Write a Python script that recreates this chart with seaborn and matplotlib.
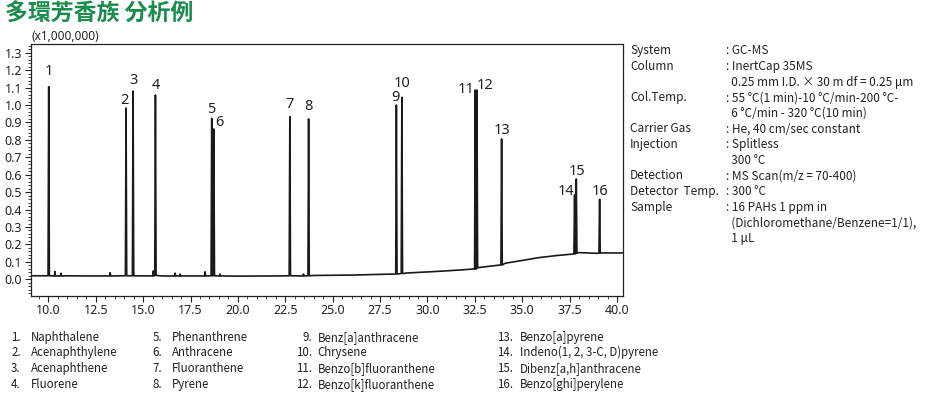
"""
GC-MS chromatogram of 16 PAHs (多環芳香族 分析例)
"""

import numpy as np
import pandas as pd
import matplotlib
matplotlib.use("Agg")
import matplotlib.pyplot as plt
from matplotlib.ticker import MultipleLocator
import seaborn as sns

# ── Data ─────────────────────────────────────────────────────────────────────
peak_no   = [str(i) for i in range(1, 17)]
peak_rt   = [10.02, 14.10, 14.47, 15.65, 18.62, 18.73, 22.74, 23.73,
             28.36, 28.65, 32.52, 32.61, 33.91, 37.76, 37.85, 39.08]
peak_h    = [1.105, 0.983, 1.080, 1.057, 0.923, 0.862, 0.933, 0.920,
             1.000, 1.044, 1.086, 1.086, 0.805, 0.484, 0.575, 0.459]
peak_base = [0.020, 0.020, 0.020, 0.022, 0.020, 0.020, 0.020, 0.020,
             0.030, 0.033, 0.058, 0.064, 0.082, 0.145, 0.150, 0.150]

# small bumps in the early baseline
bump_rt = [10.35, 10.67, 13.26, 15.54, 16.69, 16.95, 18.27, 19.06, 23.46]
bump_h  = [0.044, 0.035, 0.038, 0.048, 0.035, 0.030, 0.043, 0.030, 0.030]

# baseline (drift from the temperature program)
base_t = [9.07, 11.0, 12.0, 14.0, 16.0, 18.0, 20.0, 22.0, 24.0, 26.0, 28.2,
          28.9, 30.5, 31.7, 32.43, 32.69, 33.84, 34.10, 35.0, 35.86,
          36.8, 37.70, 37.97, 38.94, 39.29, 40.33]
base_y = [0.020, 0.020, 0.019, 0.020, 0.019, 0.019, 0.018, 0.019, 0.022,
          0.024, 0.030, 0.036, 0.045, 0.053, 0.059, 0.067, 0.082, 0.092,
          0.108, 0.124, 0.136, 0.145, 0.153, 0.149, 0.151, 0.151]

compounds = [
    "Naphthalene", "Acenaphthylene", "Acenaphthene", "Fluorene",
    "Phenanthrene", "Anthracene", "Fluoranthene", "Pyrene",
    "Benz[a]anthracene", "Chrysene", "Benzo[b]fluoranthene", "Benzo[k]fluoranthene",
    "Benzo[a]pyrene", "Indeno(1, 2, 3-C, D)pyrene", "Dibenz[a,h]anthracene",
    "Benzo[ghi]perylene",
]

cond_labels = ["System", "Column", "", "Col.Temp.", "", "Carrier Gas",
               "Injection", "", "Detection", "Detector  Temp.", "Sample", "", ""]
cond_values = [": GC-MS", ": InertCap 35MS",
               "  0.25 mm I.D. × 30 m df = 0.25 μm",
               ": 55 °C(1 min)-10 °C/min-200 °C-",
               "  6 °C/min - 320 °C(10 min)",
               ": He, 40 cm/sec constant", ": Splitless", "  300 °C",
               ": MS Scan(m/z = 70-400)", ": 300 °C", ": 16 PAHs 1 ppm in",
               "  (Dichloromethane/Benzene=1/1),", "  1 μL"]

# label centre offsets from the peak apex (points)
lab_dx = [0, -1, 0, 0, 0, 4, 0, 0, -1, 0, -6.7, 6, 0, -6.2, 0.5, 0]
lab_dy = [10.8, 5.5, 7.5, 7, 6.5, 4.5, 8.5, 9, 5.3, 9.6, 0.5, 3.4, 5.8, 2.4, 5.3, 5.5]

# ── Build the trace: baseline points + triangular peaks ──────────────────────
HALF_W = 0.035
rows = list(zip(base_t, base_y))
for rt, h, b in zip(peak_rt, peak_h, peak_base):
    rows += [(rt - HALF_W, b), (rt, h), (rt + HALF_W, b)]
for rt, h in zip(bump_rt, bump_h):
    rows += [(rt - 0.03, 0.019), (rt, h), (rt + 0.03, 0.019)]
trace = pd.DataFrame(rows, columns=["time", "signal"]).sort_values("time")

# ── Figure ───────────────────────────────────────────────────────────────────
sns.set_theme(style="ticks")
plt.rcParams["font.family"] = ["Noto Sans CJK JP", "DejaVu Sans"]
LATIN = ["Noto Sans", "DejaVu Sans"]
INK = "#222222"

W, H = 932, 394
fig = plt.figure(figsize=(W / 100, H / 100), dpi=100)
ax = fig.add_axes([30.7 / W, 1 - 296 / H, (623.3 - 30.7) / W, (296 - 44) / H])

sns.lineplot(data=trace, x="time", y="signal", sort=False, estimator=None,
             color="#1a1a1a", lw=1.2, ax=ax)

ax.set_xlim(9.07, 40.33)
ax.set_ylim(-0.096, 1.35)
ax.xaxis.set_major_locator(MultipleLocator(2.5))
ax.xaxis.set_minor_locator(MultipleLocator(0.5))
ax.yaxis.set_major_locator(MultipleLocator(0.1))
ax.yaxis.set_minor_locator(MultipleLocator(0.02))
ax.xaxis.set_major_formatter(plt.FuncFormatter(lambda v, _: f"{v:.1f}"))
ax.yaxis.set_major_formatter(plt.FuncFormatter(lambda v, _: f"{v:.1f}"))
ax.tick_params(axis="both", which="major", length=4, width=0.8,
               labelsize=9, colors=INK, pad=2)
ax.tick_params(axis="both", which="minor", length=2, width=0.6, colors=INK)
for lab in ax.get_xticklabels() + ax.get_yticklabels():
    lab.set_fontfamily(LATIN)
ax.set_xlabel("")
ax.set_ylabel("")
for s in ax.spines.values():
    s.set_linewidth(0.9)
    s.set_color(INK)

# peak numbers
for n, rt, h, dx, dy in zip(peak_no, peak_rt, peak_h, lab_dx, lab_dy):
    ax.annotate(n, (rt, h), xytext=(dx, dy), textcoords="offset points",
                ha="center", va="center", fontsize=10.5, color=INK, family=LATIN)

# scale note
fig.text(32 / W, 1 - 37 / H, "(x1,000,000)", fontsize=8.5, va="center",
         ha="left", color=INK, family=LATIN)

# title
fig.text(5 / W, 1 - 14 / H, "多環芳香族 分析例", fontsize=16.5, fontweight="bold",
         color="#1a8c4e", va="center", ha="left")

# analysis conditions
for i, (lab, val) in enumerate(zip(cond_labels, cond_values)):
    y = 1 - (50.7 + i * 15.66) / H
    fig.text(630 / W, y, lab, fontsize=8.5, va="center", ha="left", color=INK)
    fig.text(726 / W, y, val, fontsize=8.5, va="center", ha="left", color=INK)

# compound list
col_num_x  = [20.7, 162, 311.7, 513]
col_name_x = [30.7, 171.7, 317.7, 520]
row_y = [337.7, 352.3, 368.3, 384.3]
for i, name in enumerate(compounds):
    c, r = divmod(i, 4)
    y = 1 - row_y[r] / H
    fig.text(col_num_x[c] / W, y, f"{i + 1}.", fontsize=8.3, va="center",
             ha="right", color=INK)
    fig.text(col_name_x[c] / W, y, name, fontsize=8.3, va="center",
             ha="left", color=INK)

fig.savefig("out.png", dpi=100)
